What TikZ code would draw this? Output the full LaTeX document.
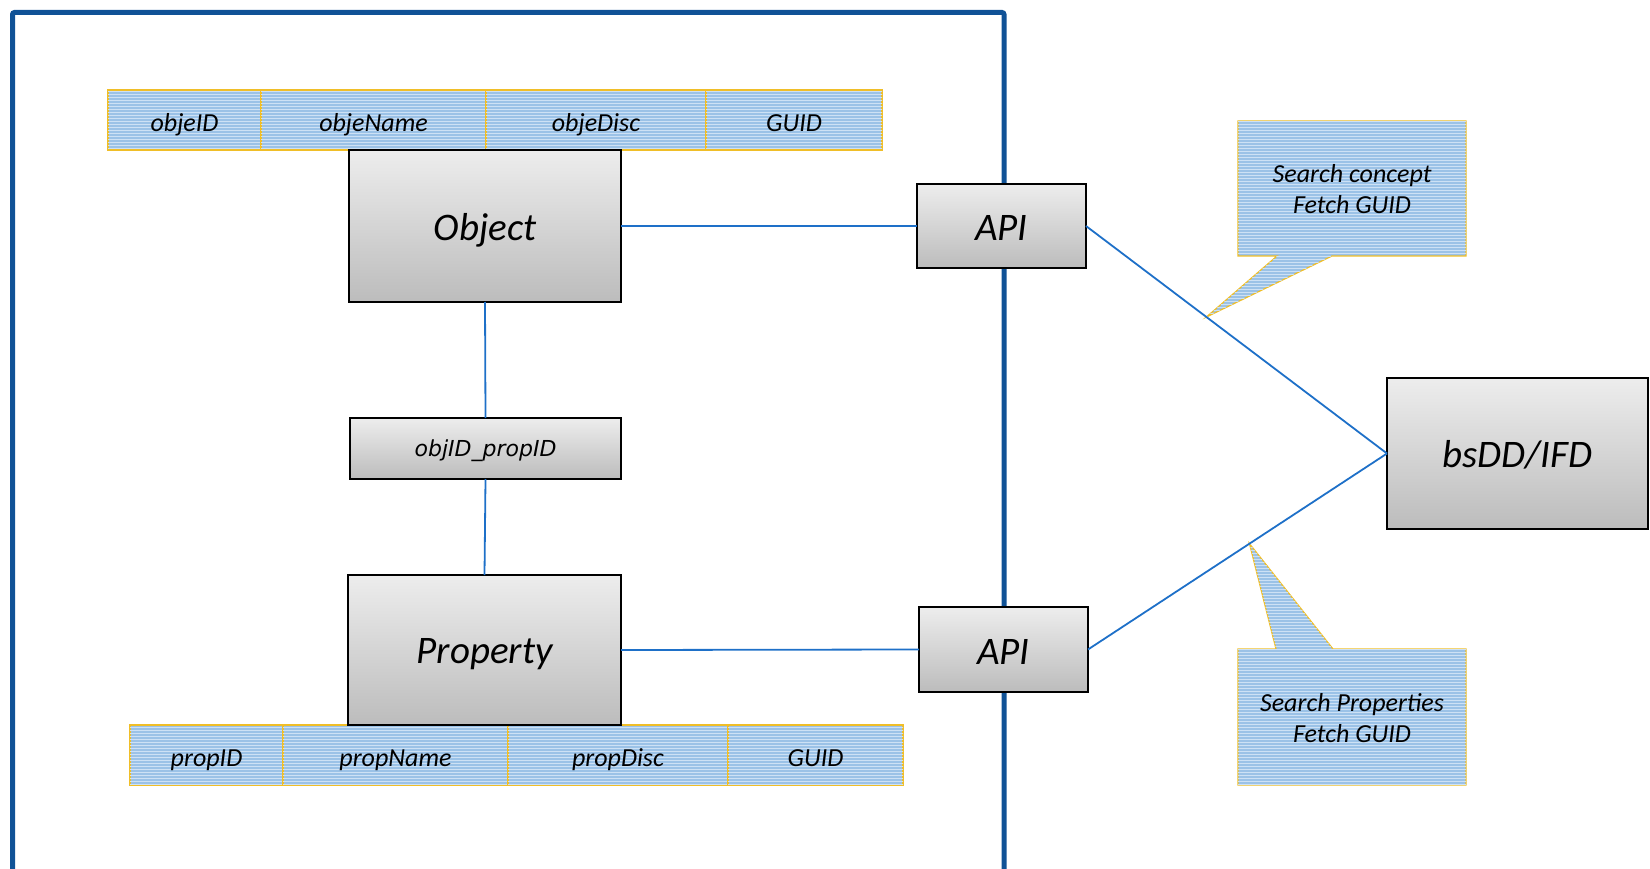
\documentclass[tikz,border=0pt]{standalone}
\usepackage{fontspec}
\setmainfont{Carlito}
\newfontfamily\linkfont{DejaVu Sans}
\usetikzlibrary{patterns,calc}

\definecolor{framecol}{RGB}{16,82,150}
\definecolor{linkcol}{RGB}{30,112,200}
\definecolor{cellfill}{RGB}{155,194,231}
\definecolor{cellhatch}{RGB}{205,225,245}
\definecolor{cellline}{RGB}{240,190,40}
\definecolor{boxtop}{RGB}{237,237,237}
\definecolor{boxbot}{RGB}{188,188,188}

% lower a label by #1 pt while keeping its box size, so the node stays centred
\newcommand{\dn}[2]{\raisebox{-#1pt}[\height][\depth]{#2}}

\tikzset{
  graybox/.style={draw=black, line width=1.6, top color=boxtop, bottom color=boxbot,
    inner sep=0, outer sep=0, font=\fontsize{39}{44}\selectfont\itshape},
  tagfill/.style={fill=cellfill, postaction={pattern=horizontal lines, pattern color=cellhatch}},
  cell/.style={tagfill, draw=cellline, line width=1.2, minimum height=60,
    inner sep=0, outer sep=0, font=\fontsize{26}{30}\selectfont\itshape},
  callout/.style={tagfill, draw=cellline, line width=1.2},
  callouttext/.style={align=center, inner sep=0, font=\fontsize{26}{31}\selectfont\itshape},
  link/.style={draw=linkcol, line width=1.8},
}

\begin{document}
\begin{tikzpicture}[x=1pt, y=-1pt]
\useasboundingbox (0,0) rectangle (1650,869);
\clip (0,0) rectangle (1650,869);

% outer frame, open at the bottom
\draw[framecol, line width=5, rounded corners=2] (12.5,900) -- (12.5,12.5) -- (1004,12.5) -- (1004,900);

% attribute row of the object table
\node[cell, minimum width=153] (oId)   at (184.5,120) {\dn{5}{objeID}};
\node[cell, minimum width=225] (oName) at (373.5,120) {\dn{5}{objeName}};
\node[cell, minimum width=220] (oDisc) at (596,120)   {\dn{5}{objeDisc}};
\node[cell, minimum width=176] (oGuid) at (794,120)   {\dn{3}{GUID}};

% attribute row of the property table
\node[cell, minimum width=153] (pId)   at (206.5,755) {\dn{5}{propID}};
\node[cell, minimum width=225] (pName) at (395.5,755) {\dn{5}{propName}};
\node[cell, minimum width=220] (pDisc) at (618,755)   {\dn{5}{propDisc}};
\node[cell, minimum width=175] (pGuid) at (815.5,755) {\dn{3}{GUID}};

% entities
\node[graybox, minimum width=272, minimum height=152] (obj)  at (485,226)    {\dn{4}{Object}};
\node[graybox, minimum width=271, minimum height=61,
      font=\fontsize{22}{26}\selectfont\linkfont\itshape] (join) at (485.5,448.5) {\dn{2}{objID\_propID}};
\node[graybox, minimum width=273, minimum height=150] (prop) at (484.5,650)  {\dn{4}{Property}};
\node[graybox, minimum width=169, minimum height=84]  (apiA) at (1001.5,226) {\dn{2}{API}};
\node[graybox, minimum width=169, minimum height=85]  (apiB) at (1003.5,649.5) {\dn{2}{API}};
\node[graybox, minimum width=261, minimum height=151] (bsdd) at (1517.5,453.5) {\dn{1}{bsDD/IFD}};

% points on the service links where the callouts attach
\coordinate (tipA) at ($(apiA.east)!0.40!(bsdd.west)$);
\coordinate (tipB) at ($(apiB.east)!0.54!(bsdd.west)$);

% callouts
\path[callout] (1238,121) -- (1466,121) -- (1466,256) -- (1332,256) -- (tipA)
  -- (1277,256) -- (1238,256) -- cycle;
\node[callouttext] (noteA) at (1352,189) {Search concept\\Fetch GUID};

\path[callout] (1238,649) -- (1276,649) -- (tipB) -- (1333,649) -- (1466,649)
  -- (1466,785) -- (1238,785) -- cycle;
\node[callouttext] (noteB) at (1352,718) {Search Properties\\Fetch GUID};

% connectors
\draw[link] (obj.east) -- (apiA.west);
\draw[link] (prop.east) -- (apiB.west);
\draw[link] (obj.south) -- (join.north);
\draw[link] (join.south) -- (prop.north);
\draw[link] (apiA.east) -- (bsdd.west);
\draw[link] (apiB.east) -- (bsdd.west);
\end{tikzpicture}
\end{document}
